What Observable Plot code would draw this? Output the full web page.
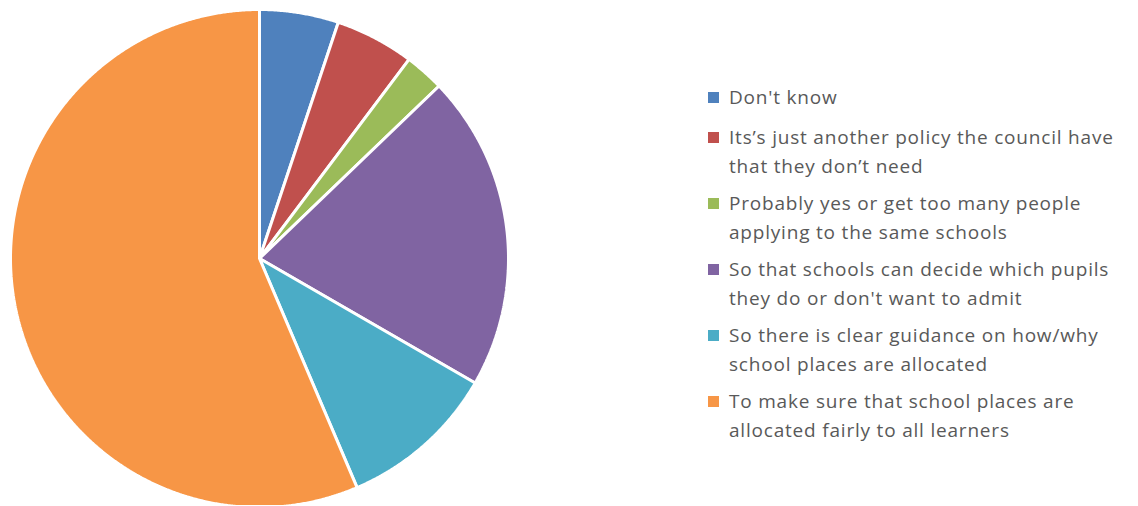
<!DOCTYPE html>
<html>
<head>
<meta charset="utf-8">
<script src="https://cdn.jsdelivr.net/npm/d3@7"></script>
<script src="https://cdn.jsdelivr.net/npm/@observablehq/plot@0.6"></script>
<style>
  html, body { margin: 0; padding: 0; background: #fff; }
  #wrap { position: relative; width: 1138px; height: 506px; overflow: hidden; }
  #legend { position: absolute; left: 708px; top: 83px; width: 420px;
    font-family: "Open Sans", sans-serif; font-size: 19px; line-height: 29px;
    letter-spacing: 0.8px; color: #595959; }
  .row { display: flex; align-items: flex-start; margin-bottom: 8px; }
  .row:first-child { margin-bottom: 11px; }
  .sw { width: 11px; height: 11px; flex: none; margin-top: 9px; margin-right: 10px; }
  .lab { width: 398px; }
</style>
</head>
<body>
<div id="wrap"></div>
<script>
const categories = [
  "Don't know",
  "Its’s just another policy the council have that they don’t need",
  "Probably yes or get too many people applying to the same schools",
  "So that schools can decide which pupils they do or don't want to admit",
  "So there is clear guidance on how/why school places are allocated",
  "To make sure that school places are allocated fairly to all learners"
];
const counts = [2, 2, 1, 8, 4, 22];
const colors = ["#4F81BD", "#C0504D", "#9BBB59", "#8064A2", "#4BACC6", "#F79646"];

const W = 1138, H = 506;
const cx = 259, cy = 258, R = 249;

const arcs = d3.pie().sort(null).value((d) => d.count)(
  categories.map((c, i) => ({category: c, count: counts[i]}))
);

function slicePolygon(a) {
  const pts = [[cx, cy]];
  const n = Math.max(2, Math.ceil((a.endAngle - a.startAngle) / 0.005));
  for (let k = 0; k <= n; k++) {
    const t = a.startAngle + (a.endAngle - a.startAngle) * k / n;
    pts.push([cx + R * Math.sin(t), cy - R * Math.cos(t)]);
  }
  pts.push([cx, cy]);
  return {type: "Feature", properties: {category: a.data.category},
    geometry: {type: "Polygon", coordinates: [pts]}};
}
const features = arcs.map(slicePolygon);

const chart = Plot.plot({
  width: W, height: H,
  margin: 0,
  projection: {type: "identity"},
  color: {domain: categories, range: colors},
  marks: [
    Plot.geo(features, {
      fill: (d) => d.properties.category,
      stroke: "white",
      strokeWidth: 3,
      strokeLinejoin: "miter"
    })
  ]
});

const wrap = document.getElementById("wrap");
wrap.appendChild(chart);

const legend = document.createElement("div");
legend.id = "legend";
categories.forEach((c, i) => {
  const row = document.createElement("div");
  row.className = "row";
  const sw = document.createElement("div");
  sw.className = "sw";
  sw.style.background = colors[i];
  const lab = document.createElement("div");
  lab.className = "lab";
  lab.textContent = c;
  row.appendChild(sw);
  row.appendChild(lab);
  legend.appendChild(row);
});
wrap.appendChild(legend);
</script>
</body>
</html>
